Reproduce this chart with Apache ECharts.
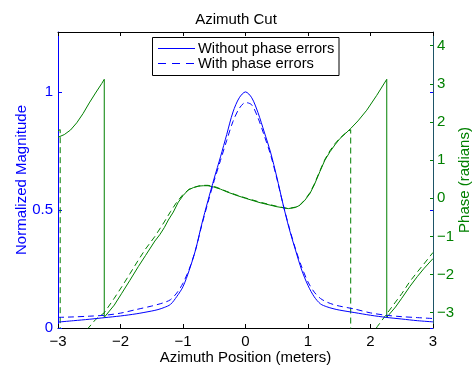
<!DOCTYPE html>
<html>
<head>
<meta charset="utf-8">
<script src="https://cdn.jsdelivr.net/npm/echarts@6/dist/echarts.min.js"></script>
<style>
  html, body { margin: 0; padding: 0; background: #fff; }
  #chart { width: 472px; height: 369px; }
</style>
</head>
<body>
<div id="chart"></div>
<script>
// Azimuth positions (m) for the magnitude profiles
const azimuth = [-3, -2.75, -2.5, -2.25, -2, -1.75, -1.5, -1.4, -1.3, -1.2, -1.1, -1.0, -0.9, -0.8, -0.7, -0.6, -0.5, -0.4, -0.3, -0.2, -0.1, 0,
                 0.1, 0.2, 0.3, 0.4, 0.5, 0.6, 0.7, 0.8, 0.9, 1.0, 1.1, 1.2, 1.3, 1.4, 1.5, 1.75, 2, 2.25, 2.5, 2.75, 3];

// Normalized magnitude without / with phase errors
const magClean = [0.025, 0.031, 0.037, 0.044, 0.051, 0.060, 0.072, 0.078, 0.087, 0.100, 0.133, 0.175, 0.245, 0.330, 0.440, 0.540, 0.635, 0.725, 0.820, 0.915, 0.975, 1.000,
                  0.975, 0.912, 0.830, 0.745, 0.640, 0.525, 0.420, 0.330, 0.245, 0.180, 0.132, 0.102, 0.090, 0.082, 0.076, 0.065, 0.054, 0.045, 0.038, 0.031, 0.026];
const magError = [0.045, 0.047, 0.050, 0.054, 0.063, 0.078, 0.093, 0.100, 0.108, 0.120, 0.148, 0.190, 0.250, 0.330, 0.435, 0.532, 0.625, 0.710, 0.795, 0.875, 0.930, 0.955,
                  0.945, 0.890, 0.815, 0.735, 0.635, 0.525, 0.425, 0.335, 0.258, 0.195, 0.152, 0.125, 0.110, 0.100, 0.093, 0.080, 0.064, 0.054, 0.048, 0.044, 0.040];

// Wrapped phase (radians) without phase errors; repeated positions are the wrap jumps
const phaseCleanX = [-3, -2.9, -2.8, -2.7, -2.6, -2.5, -2.4, -2.3, -2.26, -2.26, -2.1, -1.98, -1.85, -1.715, -1.6, -1.45, -1.37, -1.3, -1.235, -1.155, -1.075, -1.0, -0.915, -0.835, -0.75, -0.675, -0.6, -0.515, -0.4, -0.3, -0.15, 0,
                     0.232, 0.5, 0.685, 0.8, 0.872, 0.95, 1.032, 1.1, 1.19, 1.27, 1.352, 1.43, 1.512, 1.6, 1.683, 1.8, 1.94, 2.1, 2.26, 2.26, 2.4, 2.5, 2.63, 2.75, 2.85, 3];
const phaseClean = [1.60, 1.67, 1.79, 1.98, 2.22, 2.50, 2.76, 3.01, 3.12, -3.12, -2.80, -2.49, -2.15, -1.79, -1.50, -1.12, -0.95, -0.77, -0.57, -0.36, -0.10, 0.07, 0.22, 0.28, 0.32, 0.33, 0.33, 0.30, 0.24, 0.17, 0.08, 0.00,
                    -0.115, -0.22, -0.27, -0.24, -0.18, -0.05, 0.13, 0.35, 0.70, 1.00, 1.22, 1.40, 1.57, 1.70, 1.83, 2.03, 2.31, 2.70, 3.12, -3.12, -2.85, -2.62, -2.31, -2.05, -1.85, -1.58];

// Wrapped phase (radians) with phase errors
const phaseErrorX = [-3, -2.965, -2.965, -2.75, -2.6, -2.515, -2.4, -2.26, -2.1, -1.98, -1.85, -1.715, -1.6, -1.45, -1.3, -1.2, -1.1, -1.0, -0.9, -0.8, -0.7, -0.6, -0.5, -0.4, -0.3, -0.15, 0,
                     0.232, 0.5, 0.685, 0.8, 0.872, 0.95, 1.032, 1.1, 1.19, 1.27, 1.352, 1.43, 1.512, 1.6, 1.683, 1.683, 1.9, 2.11, 2.26, 2.4, 2.5, 2.63, 2.75, 2.85, 3];
const phaseError = [1.77, 1.80, -4.48, -3.95, -3.60, -3.40, -3.18, -3.00, -2.62, -2.32, -1.98, -1.62, -1.33, -1.00, -0.62, -0.35, -0.10, 0.10, 0.24, 0.30, 0.34, 0.34, 0.31, 0.25, 0.18, 0.09, 0.01,
                    -0.10, -0.21, -0.27, -0.23, -0.17, -0.04, 0.15, 0.37, 0.72, 1.02, 1.25, 1.43, 1.58, 1.71, 1.80, -4.48, -3.90, -3.36, -3.03, -2.72, -2.50, -2.18, -1.93, -1.73, -1.42];

// Axis ticks
const xTicks = [-3, -2, -1, 0, 1, 2, 3];
const magTicks = [0, 0.5, 1];
const phaseTicks = [-3, -2, -1, 0, 1, 2, 3, 4];

// Legend entries for the two magnitude curves
const legendNames = ['Without phase errors', 'With phase errors'];

const FONT = 'Liberation Sans';
const BLUE = '#0000ff';
const GREEN = '#008000';
const RIGHT_EDGE = '#1d5466';

const zip = (xs, ys) => xs.map((x, i) => [x, ys[i]]);
const signed = v => (v < 0 ? '\u2212' + Math.abs(v) : String(v));

// Boxed legend drawn as graphic elements: frame, line keys and labels
function legendGraphic() {
  const keyStyles = [
    { stroke: BLUE, lineWidth: 1 },
    { stroke: BLUE, lineWidth: 1, lineDash: [8, 6] }
  ];
  const rowY = [48.5, 63.5];
  const children = [{
    type: 'rect',
    shape: { x: 152.5, y: 37.5, width: 186.5, height: 38 },
    style: { fill: '#fff', stroke: '#000', lineWidth: 1 }
  }];
  legendNames.forEach((name, i) => {
    children.push({
      type: 'line',
      shape: { x1: 158, y1: rowY[i], x2: 195, y2: rowY[i] },
      style: keyStyles[i]
    });
    children.push({
      type: 'text',
      x: 198, y: rowY[i],
      style: { text: name, fill: '#000', font: '14.7px "' + FONT + '"', textVerticalAlign: 'middle', verticalAlign: 'middle' }
    });
  });
  return [{ type: 'group', z: 100, children }];
}

const chart = echarts.init(document.getElementById('chart'), null, { renderer: 'canvas' });

chart.setOption({
  animation: false,
  backgroundColor: '#ffffff',
  textStyle: { fontFamily: FONT },
  title: {
    text: 'Azimuth Cut',
    left: 'center',
    top: 7,
    textStyle: { fontFamily: FONT, fontSize: 15, fontWeight: 'normal', color: '#000' }
  },
  grid: { left: 58, right: 39, top: 32, bottom: 41, containLabel: false, outerBoundsMode: 'none' },
  graphic: legendGraphic(),
  xAxis: [
    {
      type: 'value', min: -3, max: 3, interval: 1, position: 'bottom',
      name: 'Azimuth Position (meters)', nameLocation: 'middle', nameGap: 22, nameMoveOverlap: false,
      nameTextStyle: { fontFamily: FONT, fontSize: 15, color: '#000' },
      axisLine: { onZero: false, lineStyle: { color: '#000', width: 1 } },
      axisTick: { inside: true, length: 4, lineStyle: { color: '#000' } },
      axisLabel: { margin: 6, fontFamily: FONT, fontSize: 15, color: '#000', formatter: signed },
      splitLine: { show: false }
    },
    {
      type: 'value', min: -3, max: 3, interval: 1, position: 'top',
      axisLine: { onZero: false, lineStyle: { color: '#000', width: 1 } },
      axisTick: { inside: true, length: 4, lineStyle: { color: '#000' } },
      axisLabel: { show: false },
      splitLine: { show: false }
    }
  ],
  yAxis: [
    {
      type: 'value', min: 0, max: 1.2537, position: 'left',
      name: 'Normalized Magnitude', nameLocation: 'middle', nameGap: 29, nameRotate: 90, nameMoveOverlap: false,
      nameTextStyle: { fontFamily: FONT, fontSize: 15, color: BLUE },
      axisLine: { show: true, onZero: false, lineStyle: { color: BLUE, width: 1 } },
      axisTick: { show: true, inside: true, length: 4, customValues: magTicks, lineStyle: { color: BLUE } },
      axisLabel: { margin: 5, fontFamily: FONT, fontSize: 15, color: BLUE, customValues: magTicks },
      splitLine: { show: false }
    },
    {
      type: 'value', min: -3.40, max: 4.36, position: 'right',
      name: 'Phase (radians)', nameLocation: 'middle', nameGap: 24, nameRotate: 90, nameMoveOverlap: false,
      nameTextStyle: { fontFamily: FONT, fontSize: 15, color: GREEN },
      axisLine: { show: true, onZero: false, lineStyle: { color: RIGHT_EDGE, width: 1 } },
      axisTick: { show: true, inside: true, length: 3, customValues: phaseTicks, lineStyle: { color: GREEN } },
      axisLabel: { margin: 4, fontFamily: FONT, fontSize: 15, color: GREEN, customValues: phaseTicks, formatter: signed },
      splitLine: { show: false }
    },
    {
      // mirrored magnitude ticks along the right edge
      type: 'value', min: 0, max: 1.2537, position: 'right',
      axisLine: { show: false, onZero: false },
      axisTick: { show: true, inside: true, length: 3, customValues: magTicks, lineStyle: { color: BLUE } },
      axisLabel: { show: false },
      splitLine: { show: false }
    }
  ],
  series: [
    {
      name: legendNames[0], type: 'line', xAxisIndex: 0, yAxisIndex: 0,
      data: zip(azimuth, magClean), symbol: 'none', smooth: 0.3,
      lineStyle: { color: BLUE, width: 1, type: 'solid' }, itemStyle: { color: BLUE }, z: 3
    },
    {
      name: legendNames[1], type: 'line', xAxisIndex: 0, yAxisIndex: 0,
      data: zip(azimuth, magError), symbol: 'none', smooth: 0.3,
      lineStyle: { color: BLUE, width: 1, type: [6, 4] }, itemStyle: { color: BLUE }, z: 3
    },
    {
      name: 'Phase without errors', type: 'line', xAxisIndex: 0, yAxisIndex: 1,
      data: zip(phaseCleanX, phaseClean), symbol: 'none', clip: true,
      lineStyle: { color: GREEN, width: 1, type: 'solid' }, z: 2
    },
    {
      name: 'Phase with errors', type: 'line', xAxisIndex: 0, yAxisIndex: 1,
      data: zip(phaseErrorX, phaseError), symbol: 'none', clip: true,
      lineStyle: { color: GREEN, width: 1, type: [6, 4] }, z: 2
    }
  ]
});
</script>
</body>
</html>
